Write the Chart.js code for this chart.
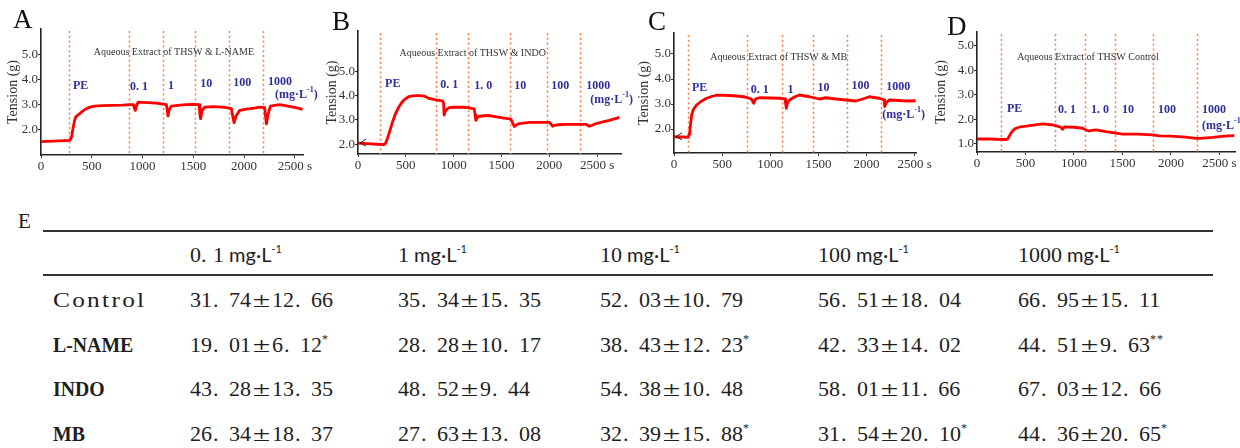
<!DOCTYPE html>
<html><head><meta charset="utf-8">
<script src="https://cdn.jsdelivr.net/npm/chart.js@4.4.1/dist/chart.umd.min.js"></script>
<style>
html,body{margin:0;padding:0;background:#fff;}
#page{position:relative;width:1240px;height:448px;overflow:hidden;background:#fff;}
#page canvas{position:absolute;top:0;}
.t{position:absolute;white-space:nowrap;color:#1e1e1e;line-height:1;transform:translateY(-50%);}
.num{font-family:"Liberation Serif",serif;font-size:22px;}
.fd{display:inline-block;width:17px;text-align:left;padding-left:1px;box-sizing:border-box;}
.pm{display:inline-block;width:21px;text-align:center;transform:scaleX(1.45);}
.st{font-size:12px;vertical-align:top;position:relative;top:-1px;letter-spacing:1px;}
.hd{font-family:"Liberation Serif",serif;font-size:22px;}
.hdot{display:inline-block;width:12px;text-align:left;}
.mg{font-family:Lato,"Open Sans",sans-serif;font-size:20px;}
.sup{font-family:Lato,"Open Sans",sans-serif;font-size:11px;vertical-align:top;position:relative;top:-1px;}
.lab{font-size:22px;transform-origin:0 50%;}
.rule{position:absolute;background:#333;}
</style></head><body><div id="page">
<canvas id="cA" width="320" height="200" style="left:0px"></canvas>
<canvas id="cB" width="316" height="200" style="left:318px"></canvas>
<canvas id="cC" width="305" height="200" style="left:628px"></canvas>
<canvas id="cD" width="308" height="200" style="left:932px"></canvas>
<div id="tbl"></div>
</div>
<script>
// ---------------- DATA ----------------
const xTickValues = [0, 500, 1000, 1500, 2000, 2500];
const xTickLabels = ['0', '500', '1000', '1500', '2000', '2500 s'];

// Panel A : Aqueous Extract of THSW & L-NAME
const aTime = [0,60,120,180,240,285,300,315,330,341,360,381,410,447,490,529,600,709,800,880,910,920,929,940,956,1000,1050,1136,1200,1235,1245,1251,1262,1284,1350,1420,1498,1557,1565,1572,1585,1612,1700,1780,1826,1875,1890,1901,1920,1957,2020,2100,2154,2203,2212,2220,2235,2259,2300,2351,2420,2483,2530,2575];
const aTension = [1.53,1.54,1.55,1.56,1.57,1.58,1.70,2.05,2.35,2.50,2.58,2.64,2.74,2.84,2.91,2.94,2.96,2.97,2.98,3.00,3.00,2.85,2.77,2.95,3.10,3.09,3.08,3.06,3.02,3.00,2.70,2.55,2.80,2.94,2.97,3.00,3.01,3.00,2.60,2.44,2.75,2.90,2.92,2.90,2.88,2.84,2.50,2.28,2.55,2.77,2.82,2.86,2.90,2.88,2.50,2.24,2.60,2.94,2.97,3.00,2.95,2.90,2.86,2.81];
const aMarks = [276, 865, 1201, 1520, 1849, 2188];
const aYTicks = [2, 3, 4, 5];

// Panel B : Aqueous Extract of THSW & INDO
const bTime = [0,100,200,272,283,300,325,360,394,430,464,500,534,570,604,650,691,743,813,883,895,900,912,925,953,1000,1092,1150,1215,1225,1232,1245,1267,1320,1372,1450,1511,1599,1620,1634,1660,1686,1791,1900,2000,2020,2035,2060,2087,2180,2280,2384,2419,2450,2489,2560,2628,2690,2733];
const bTension = [2.05,2.03,2.00,1.99,2.01,2.15,2.45,2.90,3.27,3.55,3.75,3.88,3.96,3.99,4.00,4.00,3.98,3.88,3.82,3.78,3.70,3.20,3.35,3.42,3.50,3.52,3.52,3.50,3.45,3.20,2.98,3.08,3.15,3.17,3.18,3.12,3.08,3.03,2.85,2.73,2.80,2.85,2.90,2.90,2.90,2.82,2.74,2.78,2.80,2.82,2.82,2.82,2.74,2.78,2.85,2.92,2.98,3.05,3.10];
const bMarks = [227, 813, 1148, 1585, 1972, 2321];
const bYTicks = [2, 3, 4, 5];

// Panel C : Aqueous Extract of THSW & MB
const cTime = [0,10,80,148,158,166,175,183,200,234,280,338,390,441,520,614,700,752,803,815,828,840,855,890,1000,1097,1155,1160,1166,1180,1200,1250,1303,1407,1510,1579,1680,1786,1890,1960,2028,2131,2183,2186,2190,2205,2234,2300,2372,2440,2510];
const cTension = [1.69,1.69,1.68,1.67,1.80,2.00,2.30,2.55,2.78,2.96,3.10,3.23,3.30,3.35,3.35,3.33,3.30,3.27,3.20,3.12,3.03,3.15,3.22,3.25,3.24,3.23,3.20,3.00,2.83,3.05,3.16,3.28,3.36,3.29,3.20,3.25,3.20,3.16,3.12,3.20,3.29,3.23,3.16,3.00,2.90,3.05,3.16,3.15,3.13,3.12,3.13];
const cMarks = [141, 755, 1124, 1441, 1797, 2145];
const cYTicks = [2, 3, 4, 5];

// Panel D : Aqueous Extract of THSW Control
const dTime = [0,100,200,300,316,330,350,375,402,450,505,600,677,780,866,875,883,900,1000,1089,1120,1151,1227,1330,1433,1502,1650,1811,1880,2000,2150,2258,2300,2430,2550,2653];
const dTension = [1.20,1.21,1.19,1.18,1.20,1.30,1.44,1.56,1.64,1.70,1.73,1.78,1.82,1.78,1.68,1.62,1.60,1.70,1.68,1.64,1.58,1.53,1.57,1.50,1.44,1.40,1.40,1.37,1.33,1.32,1.28,1.23,1.23,1.27,1.32,1.34];
const dMarks = [251, 801, 1117, 1426, 1811, 2268];
const dYTicks = [1, 2, 3, 4, 5];

// concentration annotation texts
const concAB = ['PE', '0. 1', '1', '10', '100', '1000'];
const concB = ['PE', '0. 1', '1. 0', '10', '100', '1000'];
const unitText = '(mg·L^-1^)';

// Table E
const groups = ['Control', 'L-NAME', 'INDO', 'MB'];
const concentrations = ['0.1', '1', '10', '100', '1000'];
const controlMean = [31.74, 35.34, 52.03, 56.51, 66.95];
const controlSD   = [12.66, 15.35, 10.79, 18.04, 15.11];
const controlSig  = ['', '', '', '', ''];
const lnameMean = [19.01, 28.28, 38.43, 42.33, 44.51];
const lnameSD   = [6.12, 10.17, 12.23, 14.02, 9.63];
const lnameSig  = ['*', '', '*', '', '**'];
const indoMean = [43.28, 48.52, 54.38, 58.01, 67.03];
const indoSD   = [13.35, 9.44, 10.48, 11.66, 12.66];
const indoSig  = ['', '', '', '', ''];
const mbMean = [26.34, 27.63, 32.39, 31.54, 44.36];
const mbSD   = [18.37, 13.08, 15.88, 20.10, 20.65];
const mbSig  = ['', '', '*', '*', '*'];

// ---------------- DRAWING ----------------
const BLUE = '#2f2f9c';
function drawSup(ctx, str, x, y, font, supFont) {
  const parts = str.split('^');
  let cx = x;
  parts.forEach((p, i) => {
    if (!p) return;
    if (i % 2 === 1) { ctx.font = supFont; ctx.fillText(p, cx, y - 5); }
    else { ctx.font = font; ctx.fillText(p, cx, y); }
    cx += ctx.measureText(p).width;
  });
}

const figPlugin = {
  id: 'fig',
  beforeDatasetsDraw(chart, args, o) {
    const {ctx, chartArea: a, scales: {x, y}} = chart;
    ctx.save();
    ctx.strokeStyle = '#f5874c';
    ctx.lineWidth = 1.5;
    ctx.setLineDash([2.2, 2.6]);
    o.marks.forEach(t => {
      const px = Math.round(x.getPixelForValue(t)) + 0.5;
      ctx.beginPath(); ctx.moveTo(px, a.top + 2); ctx.lineTo(px, a.bottom); ctx.stroke();
    });
    ctx.setLineDash([]);
    ctx.font = '10px "Liberation Serif"';
    ctx.fillStyle = '#333';
    ctx.textAlign = 'center'; ctx.textBaseline = 'middle';
    ctx.fillText(o.title, x.getPixelForValue(o.titleAt[0]), y.getPixelForValue(o.titleAt[1]));
    ctx.restore();
  },
  afterDatasetsDraw(chart, args, o) {
    const {ctx, scales: {x, y}} = chart;
    ctx.save();
    ctx.fillStyle = BLUE;
    ctx.textAlign = 'left'; ctx.textBaseline = 'middle';
    const f = 'bold 12px "Liberation Serif"';
    o.conc.forEach((txt, i) => {
      ctx.font = f;
      ctx.fillText(txt, x.getPixelForValue(o.concT[i]), y.getPixelForValue(o.concV[i]));
    });
    drawSup(ctx, unitText, x.getPixelForValue(o.unitAt[0]), y.getPixelForValue(o.unitAt[1]), 'bold 12px "Liberation Serif"', 'bold 8px "Liberation Serif"');
    if (o.arrow) {
      const px = x.getPixelForValue(0) + 2, py = y.getPixelForValue(o.arrow);
      ctx.strokeStyle = '#222'; ctx.lineWidth = 1;
      ctx.beginPath(); ctx.moveTo(px + 6, py - 4); ctx.lineTo(px, py); ctx.lineTo(px + 6, py + 3); ctx.stroke();
    }
    ctx.restore();
  },
  afterDraw(chart, args, o) {
    const ctx = chart.ctx;
    ctx.save();
    ctx.font = '27px "Liberation Serif"';
    ctx.fillStyle = '#111';
    ctx.textAlign = 'left'; ctx.textBaseline = 'alphabetic';
    ctx.fillText(o.letter, o.letterPos[0], o.letterPos[1]);
    ctx.restore();
  }
};

function makePanel(id, P) {
  new Chart(document.getElementById(id), {
    type: 'scatter',
    data: { datasets: [{
      data: P.time.map((t, i) => ({x: t, y: P.tension[i]})),
      showLine: true, borderColor: '#ff0000', borderWidth: 2.8, pointRadius: 0,
      borderJoinStyle: 'round', tension: 0
    }]},
    options: {
      responsive: false, animation: false, events: [],
      layout: { padding: { top: P.top, right: P.right, left: 0, bottom: 0 } },
      plugins: { legend: {display: false}, tooltip: {enabled: false},
        fig: { marks: P.marks, title: P.title, titleAt: P.titleAt, conc: P.conc, concT: P.concT, concV: P.concV,
               unitAt: P.unitAt, letter: P.letter, letterPos: P.letterPos, arrow: P.arrow } },
      scales: {
        x: {
          type: 'linear', min: 0, max: P.xmax,
          afterBuildTicks: s => { s.ticks = xTickValues.map(v => ({value: v})); },
          afterFit: s => { s.height = P.xh; },
          ticks: { callback: (v, i) => xTickLabels[i], autoSkip: false, maxRotation: 0,
                   font: {family: '"Liberation Serif"', size: 13}, color: '#333', padding: 1 },
          grid: { drawOnChartArea: false, drawTicks: true, tickLength: 3, color: '#333' },
          border: { color: '#222', width: 1.6 }
        },
        y: {
          min: P.ymin, max: P.ymax,
          afterBuildTicks: s => { s.ticks = P.yTicks.map(v => ({value: v})); },
          afterFit: s => { s.width = P.left; },
          ticks: { callback: v => v.toFixed(1), font: {family: '"Liberation Serif"', size: 13}, color: '#333', padding: 0 },
          grid: { drawOnChartArea: false, drawTicks: true, tickLength: 3, color: '#333' },
          border: { color: '#222', width: 1.6 },
          title: { display: true, text: 'Tension (g)', color: '#333',
                   font: {family: '"Liberation Serif"', size: 14}, padding: {top: P.ttlPad, bottom: 0} }
        }
      }
    },
    plugins: [figPlugin]
  });
}

makePanel('cA', { time: aTime, tension: aTension, marks: aMarks, yTicks: aYTicks,
  xmax: 2580, ymin: 1.0, ymax: 6.0, left: 41, right: 17, top: 29, xh: 45, ttlPad: 5,
  title: 'Aqueous Extract of THSW & L-NAME', titleAt: [1309, 5.09],
  conc: concAB, concT: [315, 877, 1251, 1567, 1892, 2236], concV: [3.74, 3.70, 3.74, 3.82, 3.86, 3.90],
  unitAt: [2305, 3.38], letter: 'A', letterPos: [13, 28] });

makePanel('cB', { time: bTime, tension: bTension, marks: bMarks, yTicks: bYTicks,
  xmax: 2750, ymin: 1.6, ymax: 6.65, left: 40, right: 13, top: 31, xh: 46, ttlPad: 6,
  title: 'Aqueous Extract of THSW & INDO', titleAt: [1199, 5.74],
  conc: concB, concT: [283, 859, 1215, 1634, 2021, 2387], concV: [4.47, 4.42, 4.38, 4.38, 4.38, 4.38],
  unitAt: [2429, 3.81], letter: 'B', letterPos: [14, 30], arrow: 2.05 });

makePanel('cC', { time: cTime, tension: cTension, marks: cMarks, yTicks: cYTicks,
  xmax: 2520, ymin: 1.04, ymax: 5.84, left: 46, right: 16, top: 33, xh: 47, ttlPad: 8,
  title: 'Aqueous Extract of THSW & MB', titleAt: [1087, 4.88],
  conc: concAB, concT: [186, 797, 1180, 1491, 1843, 2205], concV: [3.64, 3.56, 3.56, 3.64, 3.72, 3.68],
  unitAt: [2164, 2.56], letter: 'C', letterPos: [20, 30], arrow: 1.69 });

makePanel('cD', { time: dTime, tension: dTension, marks: dMarks, yTicks: dYTicks,
  xmax: 2660, ymin: 0.67, ymax: 5.57, left: 45, right: 5, top: 32, xh: 48, ttlPad: 1,
  title: 'Aqueous Extract of THSW Control', titleAt: [1144, 4.55],
  conc: concB, concT: [309, 835, 1175, 1495, 1866, 2320], concV: [2.43, 2.39, 2.39, 2.39, 2.39, 2.39],
  unitAt: [2320, 1.73], letter: 'D', letterPos: [15, 35] });

// ---------------- TABLE ----------------
(function buildTable() {
  const colX = [190, 398, 600, 818, 1018];
  const rowY = [300, 344.5, 389, 433.5];
  const headY = 255;
  const means = [controlMean, lnameMean, indoMean, mbMean];
  const sds = [controlSD, lnameSD, indoSD, mbSD];
  const sigs = [controlSig, lnameSig, indoSig, mbSig];
  const fmt = n => { const [a, b] = n.toFixed(2).split('.'); return a + '<span class="fd">.</span>' + b; };
  let h = '';
  h += '<div class="t" style="left:18px;top:221px;font-family:\'Liberation Serif\',serif;font-size:21px;">E</div>';
  h += '<div class="rule" style="left:43px;top:230px;width:1170px;height:2px;"></div>';
  h += '<div class="rule" style="left:43px;top:274px;width:1170px;height:1.6px;"></div>';
  concentrations.forEach((c, j) => {
    const parts = c.split('.');
    const numHtml = parts.length > 1 ? parts[0] + '<span class="hdot">.</span>' + parts[1] : parts[0];
    h += `<div class="t" style="left:${colX[j]}px;top:${headY}px;"><span class="hd">${numHtml}</span><span class="mg"> mg·L</span><span class="sup">-1</span></div>`;
  });
  groups.forEach((g, i) => {
    const style = i === 0 ? 'font-family:\'Liberation Serif\',serif;letter-spacing:2px;transform:translateY(-50%) scaleX(1.15);' :
      'font-family:\'Liberation Serif\',serif;font-weight:bold;transform:translateY(-50%) scaleX(0.9);';
    h += `<div class="t lab" style="left:53px;top:${rowY[i]}px;${style}">${g}</div>`;
    for (let j = 0; j < concentrations.length; j++) {
      const sig = sigs[i][j] ? `<span class="st">${sigs[i][j]}</span>` : '';
      h += `<div class="t num" style="left:${colX[j]}px;top:${rowY[i]}px;">${fmt(means[i][j])}<span class="pm">±</span>${fmt(sds[i][j])}${sig}</div>`;
    }
  });
  document.getElementById('tbl').innerHTML = h;
})();
</script>
</body></html>
